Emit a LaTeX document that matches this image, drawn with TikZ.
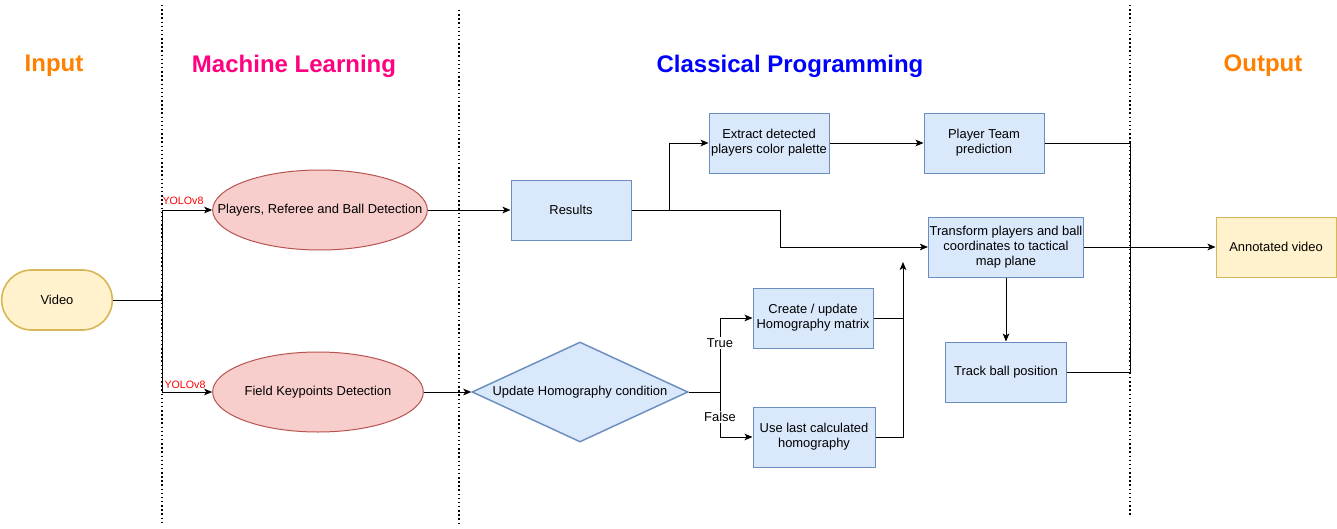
\documentclass[tikz,border=0pt]{standalone}
\usepackage{fontspec}
\setmainfont{Liberation Sans}
\usepackage{tikz}
\usetikzlibrary{shapes,shapes.geometric,arrows,arrows.meta,positioning}

\definecolor{stepfill}{HTML}{DAE8FC}
\definecolor{stepdraw}{HTML}{6C8EBF}
\definecolor{mlfill}{HTML}{F8CECC}
\definecolor{mldraw}{HTML}{B85450}
\definecolor{iofill}{HTML}{FFF2CC}
\definecolor{iodraw}{HTML}{D6B656}
\definecolor{ioorange}{HTML}{FF8000}
\definecolor{mlpink}{HTML}{FF0080}
\definecolor{cpblue}{HTML}{0000FF}

\begin{document}
\begin{tikzpicture}[x=0.75pt, y=-0.75pt, font=\fontsize{9.7}{11.25}\selectfont]
  \tikzstyle{stepbox}=[rectangle, draw=stepdraw, fill=stepfill, line width=0.75pt, minimum width=90pt, minimum height=45pt, align=center, inner sep=1pt]
  \tikzstyle{mlstep}=[ellipse, draw=mldraw, fill=mlfill, line width=0.75pt, minimum width=161pt, minimum height=60pt, inner sep=0pt]
  \tikzstyle{iobox}=[rectangle, draw=iodraw, fill=iofill, line width=0.75pt, minimum width=90pt, minimum height=45pt, align=center]
  \tikzstyle{lane}=[dotted, line width=1.1pt]
  \tikzstyle{title}=[font=\fontsize{18}{22}\selectfont\bfseries]
  \tikzstyle{leadsto}=[-{Stealth[length=6pt,width=5pt,inset=1.5pt]}, line width=0.75pt]
  \tikzstyle{wire}=[line width=0.75pt]

  \useasboundingbox (0,0) rectangle (1337,528);

  % lanes and their titles
  \draw[lane] (162,5) -- (162,522);
  \draw[lane] (459,10) -- (459,526);
  \draw[lane] (1130,5) -- (1130,516);
  \node[title, text=ioorange] (inputtitle) at (54,66) {Input};
  \node[title, text=mlpink] (mltitle) at (294,66) {Machine Learning};
  \node[title, text=cpblue] (cptitle) at (790,66) {Classical Programming};
  \node[title, text=ioorange] (outputtitle) at (1263,66) {Output};

  % = input =
  \node[iobox, rounded corners=22.5pt, minimum width=83pt, line width=1.2pt] (video) at (57,300) {Video};

  % = machine learning =
  \coordinate (split) at (162,300);
  \node[mlstep, label={center:{Players, Referee and Ball Detection}}] (detect) at (320,210) {};
  \node[mlstep, minimum width=158pt, label={center:{Field Keypoints Detection}}] (keypoints) at (318,392) {};
  \draw[wire] (video) -- (split);
  \draw[leadsto] (split) |- (detect);
  \draw[leadsto] (split) |- (keypoints);
  \node[text=red, font=\fontsize{8}{9}\selectfont, inner sep=0pt] (yolotop) at (183,201) {YOLOv8};
  \node[text=red, font=\fontsize{8}{9}\selectfont, inner sep=0pt] (yolobot) at (185,385) {YOLOv8};

  % = classical programming, detections =
  \node[stepbox] (results) at (571,210) {Results};
  \node[stepbox] (extract) at (769,143) {Extract detected\\players color palette};
  \node[stepbox] (team) at (984,143) {Player Team\\prediction};
  \node[stepbox, minimum width=116pt] (transform) at (1006,247) {Transform players and ball\\coordinates to tactical\\map plane};
  \node[stepbox, minimum width=91pt] (track) at (1006,372) {Track ball position};
  \coordinate (fork) at (669,210);
  \coordinate (bend) at (780,210);
  \draw[leadsto] (detect) -- (results);
  \draw[wire] (results) -- (fork);
  \draw[leadsto] (fork) |- (extract);
  \draw[leadsto] (fork) -- (bend) |- (transform);
  \draw[leadsto] (extract) -- (team);
  \draw[leadsto] (transform) -- (track);

  % = classical programming, homography =
  \node[diamond, draw=stepdraw, fill=stepfill, line width=1.1pt, shape aspect=2.16, minimum width=162pt, minimum height=75pt, inner sep=0pt] (cond) at (580,392) {Update Homography condition};
  \node[stepbox] (create) at (813,318) {Create / update\\Homography matrix};
  \node[stepbox, minimum width=91.5pt] (uselast) at (814,437) {Use last calculated\\homography};
  \coordinate (choice) at (720,392);
  \coordinate (joinend) at (903,262);
  \draw[leadsto] (keypoints) -- (cond);
  \draw[wire] (cond) -- (choice);
  \draw[leadsto] (choice) |- node[pos=0.33, fill=white, inner sep=1pt] (truelabel) {True} (create);
  \draw[leadsto] (choice) |- node[pos=0.28, fill=white, inner sep=1pt] (falselabel) {False} (uselast);
  \draw[wire] (create) -- (create -| joinend);
  \draw[leadsto] (uselast) -| (joinend);

  % = output =
  \node[iobox] (annotated) at (1276,247) {Annotated video};
  \coordinate (bustop) at (1130,143);
  \coordinate (busbot) at (1130,372);
  \draw[wire] (team) -- (bustop) -- (busbot) -- (track);
  \draw[leadsto] (transform) -- (annotated);
\end{tikzpicture}
\end{document}
